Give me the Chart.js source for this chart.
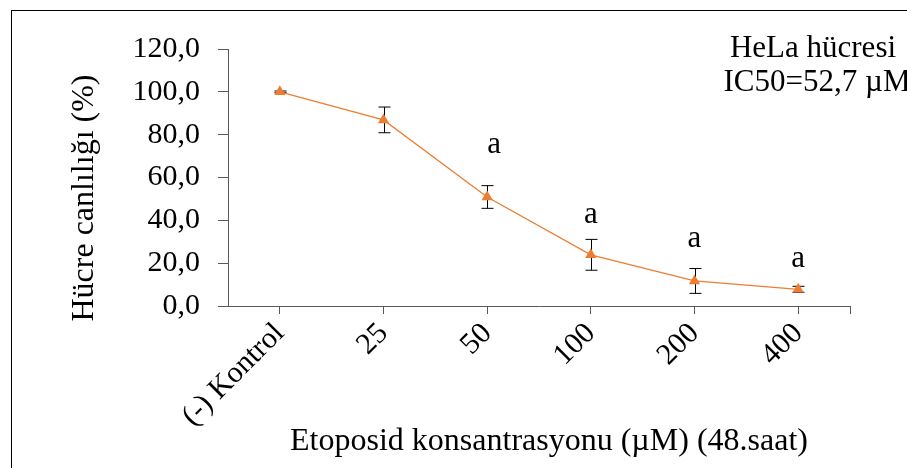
<!DOCTYPE html>
<html lang="tr">
<head>
<meta charset="utf-8">
<script src="https://cdn.jsdelivr.net/npm/chart.js@4.4.1/dist/chart.umd.min.js"></script>
<style>
  html, body { margin: 0; padding: 0; background: #fff; overflow: hidden; }
  .wrap { position: relative; width: 907px; height: 468px; }
  .frame {
    position: absolute; left: 11px; top: 10px; width: 1000px; height: 1000px;
    border-left: 1px solid #000; border-top: 1px solid #000;
  }
  canvas { position: absolute; left: 0; top: 0; }
</style>
</head>
<body>
<div class="wrap">
  <div class="frame"></div>
  <canvas id="chart" width="907" height="468"></canvas>
</div>
<script>
// values
const categories = ['(-) Kontrol', '25', '50', '100', '200', '400'];
const viability = [100, 86.9, 50.9, 23.9, 11.7, 7.8];
const errors = [0.4, 6.0, 5.3, 7.2, 5.8, 1.4];
const sigLetters = ['', '', 'a', 'a', 'a', 'a'];
const letterLevel = [null, null, 71.5, 38.7, 27.7, 18.3];
const yTicks = [0, 20, 40, 60, 80, 100, 120];

const serif = "'Liberation Serif', 'Times New Roman', serif";
const axisGray = '#595959';
const orange = '#ED7D31';

const fmt = v => v.toFixed(1).replace('.', ',');

const extras = {
  id: 'extras',
  beforeDatasetsDraw(chart) {
    const { ctx, scales: { x, y } } = chart;
    ctx.save();
    ctx.strokeStyle = '#000';
    ctx.lineWidth = 1;
    viability.forEach((v, i) => {
      const px = Math.round(x.getPixelForValue(i)) + 0.5;
      const top = y.getPixelForValue(v + errors[i]);
      const bot = y.getPixelForValue(v - errors[i]);
      ctx.beginPath();
      ctx.moveTo(px, top); ctx.lineTo(px, bot);
      ctx.moveTo(px - 6, top); ctx.lineTo(px + 6, top);
      ctx.moveTo(px - 6, bot); ctx.lineTo(px + 6, bot);
      ctx.stroke();
    });
    ctx.restore();
  },
  afterDraw(chart) {
    const { ctx, chartArea, scales: { x, y } } = chart;
    ctx.save();
    // closing tick at the right end of the x axis
    ctx.strokeStyle = axisGray;
    ctx.lineWidth = 1;
    ctx.beginPath();
    ctx.moveTo(chartArea.right + 0.5, chartArea.bottom);
    ctx.lineTo(chartArea.right + 0.5, chartArea.bottom + 8);
    ctx.stroke();

    ctx.fillStyle = '#000';
    ctx.font = '31px ' + serif;
    ctx.textAlign = 'center';
    ctx.textBaseline = 'alphabetic';
    sigLetters.forEach((s, i) => {
      if (!s) return;
      const dx = i === 2 ? 7 : 0;
      ctx.fillText(s, x.getPixelForValue(i) + dx, y.getPixelForValue(letterLevel[i]));
    });

    // axis titles
    ctx.font = '32px ' + serif;
    ctx.fillText('Etoposid konsantrasyonu (\u00B5M) (48.saat)', 549, 450);
    ctx.save();
    ctx.translate(93, 198);
    ctx.rotate(-Math.PI / 2);
    ctx.fillText('H\u00FCcre canl\u0131l\u0131\u011F\u0131 (%)', 0, 0);
    ctx.restore();

    // note box
    ctx.font = '31px ' + serif;
    ctx.fillText('HeLa h\u00FCcresi', 813, 57);
    ctx.fillText('IC50=52,7 \u00B5M', 817, 91);
    ctx.restore();
  }
};

new Chart(document.getElementById('chart'), {
  type: 'line',
  data: {
    labels: categories,
    datasets: [{
      data: viability,
      borderColor: orange,
      backgroundColor: orange,
      borderWidth: 1.25,
      pointStyle: 'triangle',
      pointRadius: 6.5,
      pointBorderWidth: 0,
      tension: 0
    }]
  },
  options: {
    responsive: false,
    animation: false,
    events: [],
    layout: { padding: { left: 0, top: 49, right: 57, bottom: 0 } },
    plugins: { legend: { display: false }, tooltip: { enabled: false } },
    scales: {
      x: {
        type: 'category',
        offset: true,
        afterFit: s => { s.height = 162; },
        grid: { offset: false, drawOnChartArea: false, drawTicks: true, tickLength: 8, tickColor: axisGray },
        border: { display: true, color: axisGray, width: 1 },
        ticks: {
          autoSkip: false, maxRotation: 45, minRotation: 45, padding: 2,
          color: '#000', font: { family: serif, size: 30 }
        }
      },
      y: {
        min: 0, max: 120,
        afterFit: s => { s.width = 228; },
        afterBuildTicks: s => { s.ticks = yTicks.map(v => ({ value: v })); },
        grid: { drawOnChartArea: false, drawTicks: true, tickLength: 10, tickColor: axisGray },
        border: { display: true, color: axisGray, width: 1 },
        ticks: {
          padding: 18, color: '#000', font: { family: serif, size: 30 },
          callback: v => fmt(v)
        }
      }
    }
  },
  plugins: [extras]
});
</script>
</body>
</html>
